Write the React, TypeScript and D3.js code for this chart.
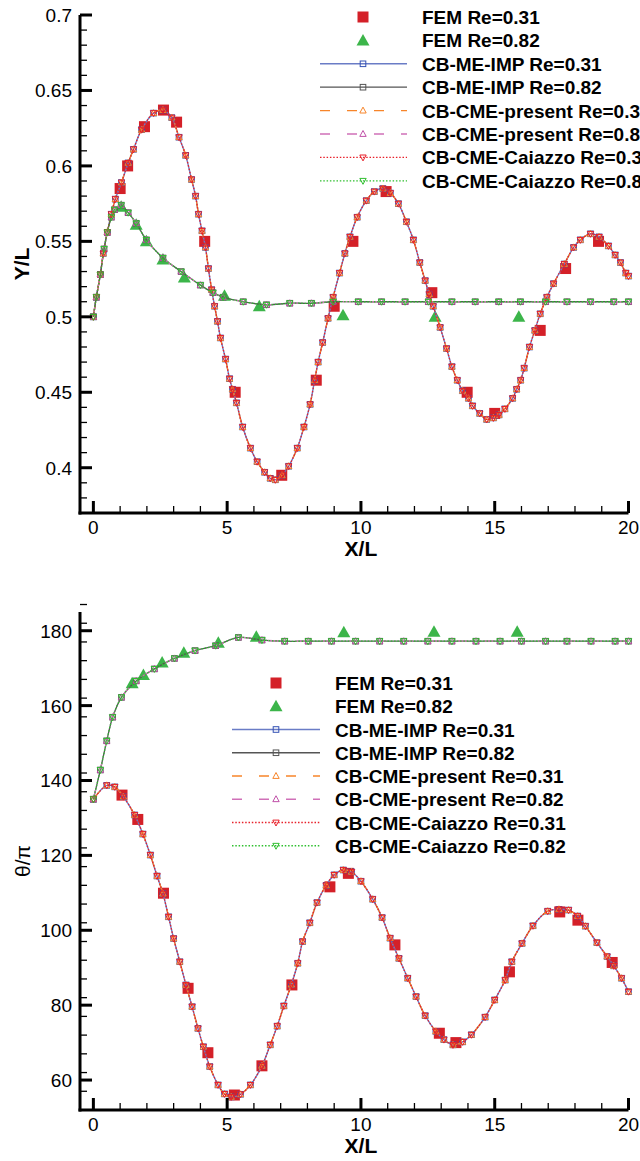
import React from 'react';
import * as d3 from 'd3';

// ---------- DATA ----------
// Top panel: Y/L vs X/L
const topCB031: [number, number][] = [
  [0, 0.5], [0.11, 0.513], [0.26, 0.528], [0.37, 0.542], [0.52, 0.556], [0.67, 0.568], [0.82, 0.578],
  [1.05, 0.589], [1.3, 0.602], [1.5, 0.611], [1.8, 0.624], [2.25, 0.635], [2.6, 0.637], [2.93, 0.632],
  [3.2, 0.619], [3.45, 0.607], [3.67, 0.591], [3.82, 0.58], [3.93, 0.568], [4.06, 0.557], [4.19, 0.546],
  [4.3, 0.532], [4.42, 0.518], [4.53, 0.507], [4.64, 0.497], [4.75, 0.486], [4.94, 0.472], [5.09, 0.459],
  [5.2, 0.452], [5.35, 0.443], [5.58, 0.427], [5.87, 0.413], [6.12, 0.404], [6.4, 0.397], [6.61, 0.393],
  [6.8, 0.392], [7.05, 0.395], [7.3, 0.401], [7.62, 0.413], [7.87, 0.427], [8.1, 0.442], [8.27, 0.458],
  [8.4, 0.47], [8.57, 0.483], [8.77, 0.499], [8.96, 0.513], [9.2, 0.529], [9.4, 0.542], [9.59, 0.553],
  [9.86, 0.566], [10.2, 0.577], [10.5, 0.583], [10.82, 0.585], [11.1, 0.582], [11.4, 0.575], [11.7, 0.563],
  [11.96, 0.551], [12.2, 0.536], [12.4, 0.524], [12.55, 0.515], [12.7, 0.507], [12.96, 0.493], [13.2, 0.479],
  [13.4, 0.467], [13.6, 0.458], [13.8, 0.451], [14.02, 0.446], [14.17, 0.441], [14.44, 0.436], [14.7, 0.432],
  [14.95, 0.433], [15.16, 0.435], [15.38, 0.439], [15.67, 0.446], [15.82, 0.452], [15.97, 0.458], [16.1, 0.466],
  [16.3, 0.48], [16.5, 0.491], [16.7, 0.502], [16.95, 0.513], [17.2, 0.522], [17.6, 0.535], [17.95, 0.546],
  [18.2, 0.551], [18.58, 0.555], [18.9, 0.553], [19.25, 0.547], [19.5, 0.541], [19.7, 0.536], [19.9, 0.529],
  [20.0, 0.527],
];
const topCB082: [number, number][] = [
  [0, 0.5], [0.11, 0.513], [0.26, 0.528], [0.4, 0.545], [0.52, 0.556], [0.67, 0.566], [0.79, 0.571],
  [1.04, 0.574], [1.3, 0.569], [1.6, 0.562], [1.98, 0.551], [2.6, 0.539], [3.28, 0.53], [4.0, 0.521],
  [4.47, 0.516], [4.85, 0.513], [5.6, 0.51], [6.47, 0.508], [7.34, 0.509], [8.15, 0.509], [8.96, 0.51],
  [9.9, 0.51], [10.77, 0.51], [11.65, 0.51], [12.52, 0.51], [13.4, 0.51], [14.27, 0.51], [15.15, 0.51],
  [15.96, 0.51], [16.9, 0.51], [17.7, 0.51], [18.58, 0.51], [19.45, 0.51], [20, 0.51],
];
const topFEM031: [number, number][] = [
  [1.0, 0.585], [1.28, 0.6], [1.91, 0.626], [2.62, 0.637], [3.11, 0.629], [4.16, 0.55], [5.3, 0.45],
  [7.04, 0.395], [8.33, 0.458], [9.0, 0.507], [9.7, 0.55], [10.94, 0.583], [12.65, 0.516], [13.97, 0.45],
  [15.0, 0.436], [16.7, 0.491], [17.65, 0.532], [18.88, 0.55],
];
const topFEM082: [number, number][] = [
  [1.04, 0.573], [1.6, 0.561], [1.98, 0.55], [2.6, 0.538], [3.4, 0.526], [4.9, 0.514], [6.2, 0.507],
  [9.33, 0.501], [12.77, 0.5], [15.9, 0.5],
];

// Bottom panel: theta/pi vs X/L
const botCB031: [number, number][] = [
  [0, 135], [0.5, 138.7], [0.8, 138.3], [1.12, 135.7], [1.54, 130.8], [1.85, 125.7], [2.13, 120.1],
  [2.38, 114.5], [2.6, 109.8], [2.81, 103.6], [3.0, 97.8], [3.23, 91.6], [3.46, 85.4], [3.69, 79.6],
  [3.91, 73.8], [4.11, 68.9], [4.35, 63.6], [4.66, 58.7], [4.9, 56.3], [5.15, 55.5], [5.5, 56.2],
  [5.87, 58.7], [6.3, 63.8], [6.61, 69.4], [6.87, 74.4], [7.12, 79.8], [7.4, 85.5], [7.64, 91.2],
  [7.82, 97.0], [8.09, 102.0], [8.36, 107.4], [8.7, 112.0], [9.0, 114.8], [9.34, 116.1], [9.65, 115.6],
  [10.0, 113.1], [10.44, 108.3], [10.79, 103.4], [11.09, 97.9], [11.42, 92.5], [11.75, 87.2], [12.06, 82.3],
  [12.4, 77.2], [12.8, 73.0], [13.1, 70.8], [13.44, 69.4], [13.8, 70.2], [14.13, 72.1], [14.64, 76.8],
  [15.0, 81.4], [15.39, 86.7], [15.64, 91.6], [16.02, 96.5], [16.43, 101.2], [16.98, 105.1], [17.4, 105.6],
  [17.76, 105.4], [18.1, 103.8], [18.39, 101.1], [18.82, 96.7], [19.2, 93.0], [19.45, 90.5], [19.74, 87.2],
  [20.0, 83.6],
];
const botCB082: [number, number][] = [
  [0, 135], [0.26, 142.8], [0.5, 150.6], [0.72, 156.9], [1.05, 162.2], [1.6, 166.6], [2.28, 169.8],
  [3.03, 172.6], [3.8, 174.7], [4.57, 176.0], [5.42, 178.2], [6.3, 177.5], [7.15, 177.2], [8.03, 177.2],
  [8.9, 177.2], [9.8, 177.2], [10.7, 177.2], [11.6, 177.2], [12.5, 177.2], [13.4, 177.2], [14.3, 177.2],
  [15.2, 177.2], [16.0, 177.2], [16.9, 177.2], [17.7, 177.2], [18.6, 177.2], [19.5, 177.2], [20.0, 177.2],
];
const botFEM031: [number, number][] = [
  [1.07, 136.1], [1.66, 129.6], [2.62, 109.9], [3.54, 84.5], [4.28, 67.3], [5.27, 56.0], [6.3, 63.8],
  [7.42, 85.4], [8.84, 111.6], [9.53, 115.2], [11.27, 96.1], [12.93, 72.5], [13.55, 70.0], [15.55, 88.9],
  [17.43, 104.9], [18.11, 102.7], [19.39, 91.4],
];
const botFEM082: [number, number][] = [
  [1.45, 166.0], [1.87, 168.2], [2.57, 171.5], [3.38, 174.1], [4.67, 176.8], [6.09, 178.4],
  [9.36, 179.6], [12.73, 179.7], [15.84, 179.7],
];

const xTicks = [0, 5, 10, 15, 20];
const topYTicks = [0.4, 0.45, 0.5, 0.55, 0.6, 0.65, 0.7];
const botYTicks = [60, 80, 100, 120, 140, 160, 180];
const legendLabels = [
  'FEM Re=0.31', 'FEM Re=0.82', 'CB-ME-IMP Re=0.31', 'CB-ME-IMP Re=0.82',
  'CB-CME-present Re=0.31', 'CB-CME-present Re=0.82', 'CB-CME-Caiazzo Re=0.31', 'CB-CME-Caiazzo Re=0.82',
];

// ---------- STYLES ----------
const FONT = "'Liberation Sans', Arial, Helvetica, sans-serif";
const styles = [
  { kind: 'fem', marker: 'bigsquare', color: '#d42028' },
  { kind: 'fem', marker: 'bigtri', color: '#3cb54a' },
  { kind: 'cb', marker: 'square', line: '#6a7cc6', mcolor: '#3452b4', dash: null, width: 1.4 },
  { kind: 'cb', marker: 'square', line: '#555555', mcolor: '#555555', dash: null, width: 1.3 },
  { kind: 'cb', marker: 'triup', line: '#f7852a', mcolor: '#f7852a', dash: '10,17', width: 1.3 },
  { kind: 'cb', marker: 'triup', line: '#d070b8', mcolor: '#c050a8', dash: '10,17', width: 1.3 },
  { kind: 'cb', marker: 'tridown', line: '#e8202a', mcolor: '#e8202a', dash: '1.5,1.8', width: 1.3 },
  { kind: 'cb', marker: 'tridown', line: '#2fbf2f', mcolor: '#2fbf2f', dash: '1.5,1.8', width: 1.3 },
];

function Marker({ type, x, y, color }: { type: string; x: number; y: number; color: string }) {
  if (type === 'bigsquare') return <rect x={x - 5.5} y={y - 5.5} width={11} height={11} fill={color} />;
  if (type === 'bigtri') {
    return <path d={`M${x},${y - 6.5}L${x + 6.5},${y + 5}L${x - 6.5},${y + 5}Z`} fill={color} />;
  }
  if (type === 'square') {
    return <rect x={x - 2.8} y={y - 2.8} width={5.6} height={5.6} fill="none" stroke={color} strokeWidth={1} />;
  }
  if (type === 'triup') {
    return <path d={`M${x},${y - 3.5}L${x + 3.2},${y + 2.4}L${x - 3.2},${y + 2.4}Z`} fill="none" stroke={color} strokeWidth={1} />;
  }
  return <path d={`M${x},${y + 3.5}L${x + 3.2},${y - 2.4}L${x - 3.2},${y - 2.4}Z`} fill="none" stroke={color} strokeWidth={1} />;
}

function Panel(props: {
  yScale: d3.ScaleLinear<number, number>;
  xScale: d3.ScaleLinear<number, number>;
  yDomain: [number, number];
  yTicks: number[];
  yMinorStep: number;
  yFmt: (v: number) => string;
  data: [number, number][][];
  yTitle: string;
  yTitleBold: boolean;
  legend: { mx: number; tx: number; x0: number; x1: number; y0: number; dy: number };
}) {
  const { xScale, yScale, yDomain, yTicks, yMinorStep, yFmt, data, yTitle, yTitleBold, legend } = props;
  const x0 = xScale.range()[0];
  const x1 = xScale.range()[1];
  const yb = yScale(yDomain[0]);
  const yt = yScale(yDomain[1]);
  const line = d3.line<[number, number]>().x((d) => xScale(d[0])).y((d) => yScale(d[1])).curve(d3.curveCatmullRom.alpha(0.5));

  const nMinor = Math.round((yDomain[1] - yDomain[0]) / yMinorStep);
  const yMinor = d3.range(nMinor + 1).map((i) => yDomain[0] + i * yMinorStep);
  const xMinor = d3.range(0, 21, 1);

  // order: FEM symbols then CB series
  const drawOrder = [0, 1, 2, 3, 4, 5, 6, 7];
  return (
    <g>
      {drawOrder.map((si) => {
        const st: any = styles[si];
        const d = data[si];
        if (st.kind === 'fem') {
          return <g key={si}>{d.map((p, i) => <Marker key={i} type={st.marker} x={xScale(p[0])} y={yScale(p[1])} color={st.color} />)}</g>;
        }
        return (
          <g key={si}>
            <path d={line(d) || ''} fill="none" stroke={st.line} strokeWidth={st.width} strokeDasharray={st.dash || undefined} />
            {d.map((p, i) => <Marker key={i} type={st.marker} x={xScale(p[0])} y={yScale(p[1])} color={st.mcolor} />)}
          </g>
        );
      })}
      {/* axes */}
      <line x1={x0} x2={x0} y1={yt} y2={yb + 1.5} stroke="#000" strokeWidth={3} />
      <line x1={x0 - 1.5} x2={x1} y1={yb} y2={yb} stroke="#000" strokeWidth={3} />
      {yMinor.map((v, i) => (
        <line key={'ym' + i} x1={x0} x2={x0 + 7} y1={yScale(v)} y2={yScale(v)} stroke="#000" strokeWidth={1.3} />
      ))}
      {yTicks.map((v, i) => (
        <g key={'yt' + i}>
          <line x1={x0} x2={x0 + 12} y1={yScale(v)} y2={yScale(v)} stroke="#000" strokeWidth={3} />
          <text x={x0 - 8} y={yScale(v) + 7} textAnchor="end" fontFamily={FONT} fontSize={19} fill="#000">{yFmt(v)}</text>
        </g>
      ))}
      {xMinor.map((v, i) => (
        <line key={'xm' + i} x1={xScale(v)} x2={xScale(v)} y1={yb} y2={yb - 7} stroke="#000" strokeWidth={1.3} />
      ))}
      {xTicks.map((v, i) => (
        <g key={'xt' + i}>
          <line x1={xScale(v)} x2={xScale(v)} y1={yb} y2={yb - 12} stroke="#000" strokeWidth={3} />
          <text x={xScale(v)} y={yb + 21} textAnchor="middle" fontFamily={FONT} fontSize={19} fill="#000">{String(v)}</text>
        </g>
      ))}
      <text x={xScale(10)} y={yb + 43} textAnchor="middle" fontFamily={FONT} fontSize={21} fontWeight="bold" fill="#000">X/L</text>
      <text transform={`translate(${yTitleBold ? 29 : 30},${(yt + yb) / 2}) rotate(-90)`} textAnchor="middle" fontFamily={FONT} fontSize={21} fontWeight={yTitleBold ? 'bold' : 'normal'} fill="#000">{yTitle}</text>
      {/* legend */}
      {legendLabels.map((lab, i) => {
        const st: any = styles[i];
        const ly = legend.y0 + i * legend.dy;
        return (
          <g key={'lg' + i}>
            {st.kind === 'cb' && (
              <line x1={legend.x0} x2={legend.x1} y1={ly} y2={ly} stroke={st.line} strokeWidth={st.width} strokeDasharray={st.dash || undefined} />
            )}
            <Marker type={st.marker} x={legend.mx} y={ly} color={st.kind === 'fem' ? st.color : st.mcolor} />
            <text x={legend.tx} y={ly + 7} fontFamily={FONT} fontSize={19} fontWeight="bold" fill="#000">{lab}</text>
          </g>
        );
      })}
    </g>
  );
}

export default function App() {
  const xTop = d3.scaleLinear().domain([-0.5, 20]).range([80, 628.5]);
  const yTop = d3.scaleLinear().domain([0.37, 0.7]).range([513, 15]);
  const xBot = d3.scaleLinear().domain([-0.5, 20]).range([80, 628.5]);
  const yBot = d3.scaleLinear().domain([52, 185]).range([1110, 612]);

  const topData = [topFEM031, topFEM082, topCB031, topCB082, topCB031, topCB082, topCB031, topCB082];
  const botData = [botFEM031, botFEM082, botCB031, botCB082, botCB031, botCB082, botCB031, botCB082];

  return (
    <svg width={640} height={1161} style={{ position: 'absolute', left: 0, top: 0, background: '#fff' }}>
      <rect width={640} height={1161} fill="#fff" />
      <Panel
        xScale={xTop}
        yScale={yTop}
        yDomain={[0.37, 0.7]}
        yTicks={topYTicks}
        yMinorStep={0.01}
        yFmt={(v) => String(+v.toFixed(2))}
        data={topData}
        yTitle="Y/L"
        yTitleBold={true}
        legend={{ mx: 363, tx: 422, x0: 320, x1: 407, y0: 17, dy: 23.4 }}
      />
      <Panel
        xScale={xBot}
        yScale={yBot}
        yDomain={[52, 185]}
        yTicks={botYTicks}
        yMinorStep={5}
        yFmt={(v) => String(v)}
        data={botData}
        yTitle="θ/π"
        yTitleBold={false}
        legend={{ mx: 276, tx: 335, x0: 232, x1: 320, y0: 683, dy: 23.25 }}
      />
    </svg>
  );
}
